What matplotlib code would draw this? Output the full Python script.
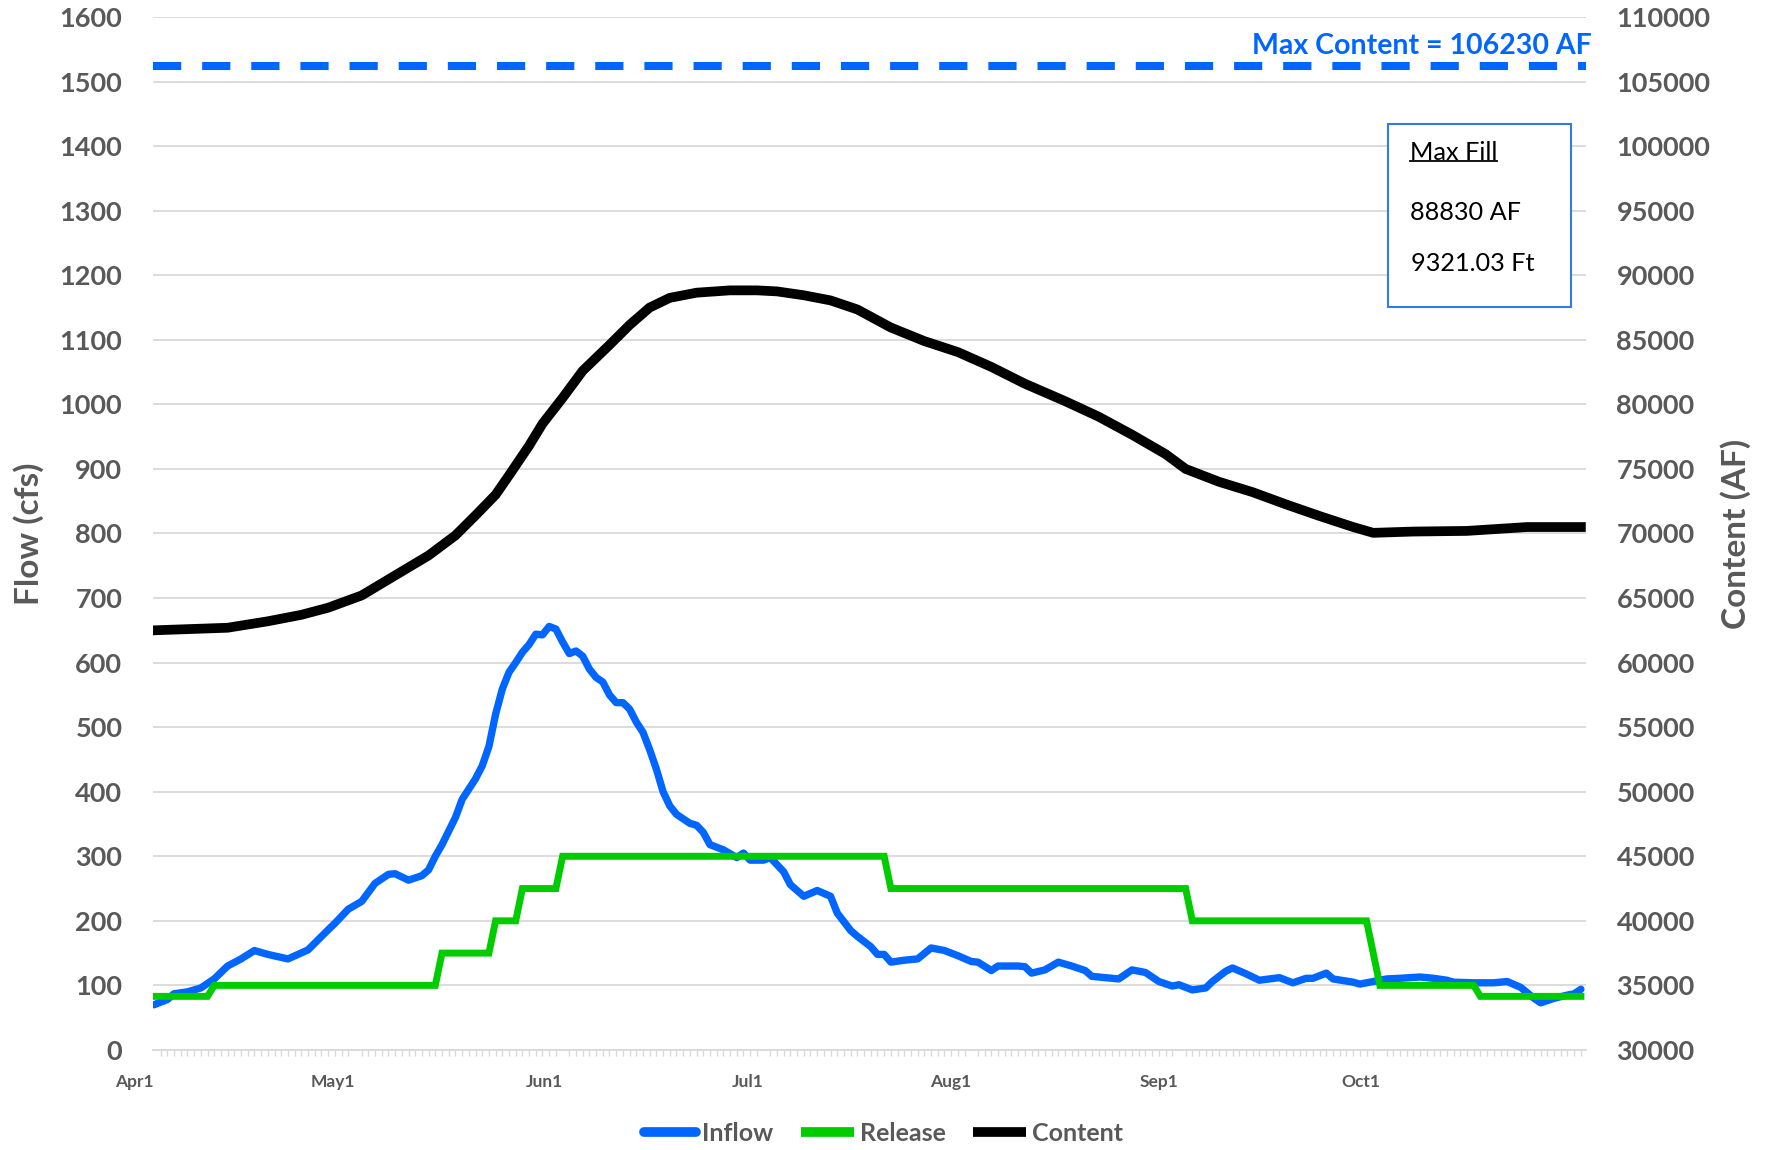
import numpy as np
import matplotlib
matplotlib.use('Agg')
import matplotlib.pyplot as plt
from matplotlib.lines import Line2D
from matplotlib.patches import Rectangle

# ---------------------------------------------------------------------------
# data (day 0 = Apr 1)
# ---------------------------------------------------------------------------
inflow_day = [0, 2, 3, 5, 7, 9, 11, 13, 15, 17, 20, 23, 26, 27, 29, 31, 33, 35, 36,
              38, 40, 41, 42, 43, 45, 46, 48, 49, 50, 51, 52, 53, 54, 55, 56, 57, 58,
              59, 60, 61, 62, 63, 64, 65, 66, 67, 68, 69, 70, 71, 72, 73, 74, 75, 76,
              77, 78, 80, 81, 82, 83, 85, 87, 88, 89, 91, 92, 94, 95, 97, 99, 101, 102,
              104, 105, 107, 108, 109, 110, 112, 114, 116, 118, 120, 122, 123, 125, 126,
              129, 130, 131, 133, 135, 137, 139, 140, 144, 146, 148, 150, 152, 153, 155,
              157, 158, 160, 161, 163, 165, 168, 170, 172, 173, 175, 176, 179, 180, 182,
              184, 186, 189, 191, 193, 194, 197, 200, 202, 204, 206, 207, 209, 211, 212, 213]
inflow_cfs = [70, 78, 87, 90, 96, 110, 130, 141, 154, 148, 141, 155, 186, 196, 218, 230, 258, 272, 273,
              263, 270, 279, 300, 318, 360, 388, 420, 440, 470, 520, 559, 585, 600, 616, 628, 644, 643,
              656, 652, 632, 614, 618, 610, 590, 577, 570, 550, 538, 538, 528, 508, 492, 465, 435, 400,
              378, 365, 351, 348, 337, 318, 310, 298, 305, 294, 294, 298, 276, 256, 238, 247, 238, 212,
              185, 176, 160, 148, 148, 136, 139, 141, 158, 154, 146, 137, 136, 123, 130,
              130, 129, 119, 124, 136, 130, 123, 114, 110, 124, 120, 106, 99, 101, 93,
              96, 106, 122, 127, 118, 108, 112, 104, 111, 111, 119, 110, 105, 102, 106,
              110, 111, 113, 111, 108, 105, 104, 104, 106, 97, 80, 73, 80, 85, 87, 94]

release_day = [0, 8, 9, 42, 43, 50, 51, 54, 55, 60, 61, 109, 110, 154, 155, 181, 183, 197, 198, 213]
release_cfs = [83, 83, 100, 100, 150, 150, 200, 200, 250, 250, 300, 300, 250, 250, 200, 200, 100, 100, 83, 83]

content_day = [0, 11, 17, 22, 26, 31, 36, 41, 45, 48, 51, 53, 56, 58, 61, 64, 68, 71, 74, 77,
               81, 86, 90, 93, 97, 101, 105, 110, 115, 120, 125, 130, 136, 141, 146, 151, 154,
               159, 164, 169, 174, 179, 182, 188, 196, 205, 213]
content_af = [62500, 62700, 63200, 63700, 64250, 65200, 66750, 68300, 69850, 71400, 73000, 74500,
              76800, 78500, 80500, 82600, 84600, 86150, 87500, 88250, 88650, 88830, 88830, 88750,
              88450, 88050, 87350, 85950, 84900, 84050, 82900, 81600, 80250, 79050, 77650, 76150,
              75000, 74000, 73200, 72250, 71350, 70500, 70050, 70150, 70200, 70500, 70500]

max_content = 106230
max_fill_af = 88830
max_fill_ft = 9321.03

month_day = [0, 30, 61, 91, 122, 153, 183]
month_lbl = ['Apr1', 'May1', 'Jun1', 'Jul1', 'Aug1', 'Sep1', 'Oct1']

# ---------------------------------------------------------------------------
BLUE = '#0066FF'
GREEN = '#00CC00'
GREY = '#595959'
GRID = '#D9D9D9'
FONT = 'Lato'

plt.rcParams['font.family'] = [FONT, 'DejaVu Sans']

fig = plt.figure(figsize=(17.7, 11.5), dpi=100)
ax = fig.add_axes([0.0864, 0.087, 0.8096, 0.8982])
ax2 = ax.twinx()

ax.plot(inflow_day, inflow_cfs, color=BLUE, lw=5.3, solid_joinstyle='round',
        solid_capstyle='round', zorder=3)
ax.plot(release_day, release_cfs, color=GREEN, lw=5.0, solid_joinstyle='miter', zorder=4)
ax2.plot(content_day, content_af, color='black', lw=7.0, solid_joinstyle='round', zorder=3)
ax2.axhline(max_content, color=BLUE, lw=5.8, dashes=(3.5, 2.6), zorder=2)

ax.set_xlim(-0.15, 213.75)
ax.set_ylim(0, 1600)
ax2.set_ylim(30000, 110000)
ax.set_yticks(np.arange(0, 1601, 100))
ax2.set_yticks(np.arange(30000, 110001, 5000))
ax.grid(axis='y', color=GRID, lw=1.3)
ax.set_axisbelow(True)

for a in (ax, ax2):
    for s in a.spines.values():
        s.set_visible(False)
ax.spines['bottom'].set_visible(True)
ax.spines['bottom'].set_color(GRID)
ax.spines['bottom'].set_linewidth(1.3)

ax.set_xticks(month_day)
ax.set_xticklabels(month_lbl, ha='right')
ax.set_xticks(np.arange(0, 214, 1), minor=True)
ax.tick_params(axis='x', which='major', length=0, pad=17, labelsize=12.5, labelcolor=GREY)
ax.tick_params(axis='x', which='minor', length=4.5, width=1, color=GRID, direction='out')
for t in ax.get_xticklabels():
    t.set_fontweight('bold')

ax.tick_params(axis='y', length=0, pad=22, labelsize=19.5, labelcolor=GREY)
ax2.tick_params(axis='y', length=0, pad=22, labelsize=19.5, labelcolor=GREY)
for t in ax.get_yticklabels() + ax2.get_yticklabels():
    t.set_fontweight('bold')

ax.set_ylabel('Flow (cfs)', fontsize=24, fontweight='bold', color=GREY)
ax2.set_ylabel('Content (AF)', fontsize=24, fontweight='bold', color=GREY, rotation=90)
ax.yaxis.set_label_coords(-0.076, 0.5)
ax2.yaxis.set_label_coords(1.094, 0.5)

ax2.text(213.75 + 0.9, max_content + 1550, f'Max Content = {max_content} AF', color=BLUE,
         fontsize=20.5, fontweight='bold', ha='right', va='center', clip_on=False)

# Max Fill box
fig.patches.append(Rectangle((0.7842, 0.733), 0.1034, 0.159, transform=fig.transFigure,
                             fill=True, facecolor='white', edgecolor='#2F7BEA', lw=1.5, zorder=5))
t1 = fig.text(0.7965, 0.8678, 'Max Fill', fontsize=18.2, color='black', va='center', zorder=6)
fig.text(0.7966, 0.8148, f'{max_fill_af} AF', fontsize=18.2, color='black', va='center', zorder=6)
fig.text(0.7972, 0.7713, f'{max_fill_ft:.2f} Ft', fontsize=18.2, color='black', va='center', zorder=6)

fig.canvas.draw()
bb = t1.get_window_extent().transformed(fig.transFigure.inverted())
fig.add_artist(Line2D([bb.x0, bb.x1], [bb.y0 + 0.002, bb.y0 + 0.002], color='black', lw=1.3,
                      transform=fig.transFigure, zorder=6))

handles = [Line2D([], [], color=BLUE, lw=7, solid_capstyle='round'),
           Line2D([], [], color=GREEN, lw=7, solid_capstyle='butt'),
           Line2D([], [], color='black', lw=7, solid_capstyle='butt')]
leg = fig.legend(handles, ['Inflow', 'Release', 'Content'], loc='center',
                 bbox_to_anchor=(0.499, 0.0145), ncol=3, frameon=False,
                 handlelength=2.1, handletextpad=0.25, columnspacing=1.1,
                 prop={'family': FONT, 'weight': 'bold', 'size': 18})
for t in leg.get_texts():
    t.set_color(GREY)

fig.savefig('out.png', dpi=100)
